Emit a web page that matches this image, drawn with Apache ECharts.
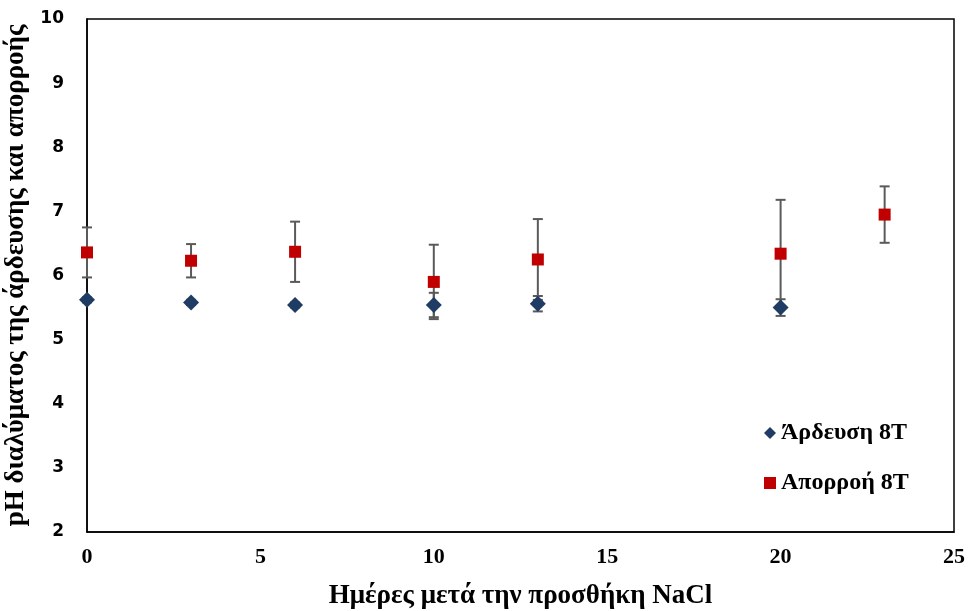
<!DOCTYPE html>
<html><head><meta charset="utf-8">
<script src="https://cdn.jsdelivr.net/npm/echarts@6/dist/echarts.min.js"></script>
<style>html,body{margin:0;padding:0;background:#fff}#c{width:968px;height:611px}</style>
</head><body><div id="c"></div>
<script>
const days = [0, 3, 6, 10, 13, 20, 23];
const irrigationDays = [0, 3, 6, 10, 13, 20];
const irrigationPH = [5.62, 5.58, 5.54, 5.54, 5.56, 5.50];
const irrigationErr = [0.04, 0.04, 0.04, 0.19, 0.12, 0.13];
const runoffPH = [6.36, 6.23, 6.37, 5.90, 6.25, 6.34, 6.95];
const runoffErr = [0.39, 0.26, 0.47, 0.58, 0.63, 0.84, 0.44];
const xTicks = [0, 5, 10, 15, 20, 25];
const yTicks = [2, 3, 4, 5, 6, 7, 8, 9, 10];

const errData = [];
irrigationDays.forEach((d, i) => errData.push([d, irrigationPH[i] - irrigationErr[i], irrigationPH[i] + irrigationErr[i]]));
days.forEach((d, i) => errData.push([d, runoffPH[i] - runoffErr[i], runoffPH[i] + runoffErr[i]]));

const chart = echarts.init(document.getElementById('c'));
const serif = '"Liberation Serif", "Times New Roman", serif';
chart.setOption({
  animation: false,
  grid: { left: 87, right: 14, top: 19, bottom: 79, containLabel: false, outerBoundsMode: 'none', show: true, borderColor: '#000', borderWidth: 1.5, backgroundColor: 'transparent' },
  xAxis: {
    type: 'value', min: xTicks[0], max: xTicks[xTicks.length - 1], interval: 5,
    name: 'Ημέρες μετά την προσθήκη NaCl', nameLocation: 'middle', nameGap: 51,
    nameTextStyle: { fontFamily: serif, fontWeight: 'bold', fontSize: 27, color: '#000' },
    axisLine: { show: true, lineStyle: { color: '#000', width: 1.5 } },
    axisTick: { show: false }, splitLine: { show: false },
    axisLabel: { fontFamily: serif, fontWeight: 'bold', fontSize: 22, color: '#000', margin: 14 }
  },
  yAxis: {
    type: 'value', min: yTicks[0], max: yTicks[yTicks.length - 1], interval: 1,
    name: 'pH διαλύματος της άρδευσης και απορροής', nameLocation: 'middle', nameGap: 53,
    nameTextStyle: { fontFamily: serif, fontWeight: 'bold', fontSize: 27, color: '#000' },
    axisLine: { show: true, lineStyle: { color: '#000', width: 1.5 } },
    axisTick: { show: false }, splitLine: { show: false },
    axisLabel: { fontFamily: '"DejaVu Sans", Verdana, sans-serif', fontWeight: 'bold', fontSize: 17, color: '#000', margin: 23 }
  },
  legend: {
    orient: 'vertical', left: 759, top: 416, itemGap: 26, itemWidth: 12, itemHeight: 12,
    textStyle: { fontFamily: serif, fontWeight: 'bold', fontSize: 24, color: '#000' },
    data: [{ name: 'Άρδευση 8T', icon: 'diamond' }, { name: 'Απορροή 8T', icon: 'rect' }]
  },
  series: [
    {
      type: 'custom', name: 'err', silent: true, z: 1,
      data: errData,
      renderItem: function (params, api) {
        const x = api.value(0);
        const lo = api.coord([x, api.value(1)]);
        const hi = api.coord([x, api.value(2)]);
        const w = 5;
        const st = { stroke: '#5a5a5a', lineWidth: 2 };
        return { type: 'group', children: [
          { type: 'line', shape: { x1: lo[0], y1: lo[1], x2: hi[0], y2: hi[1] }, style: st },
          { type: 'line', shape: { x1: lo[0] - w, y1: lo[1], x2: lo[0] + w, y2: lo[1] }, style: st },
          { type: 'line', shape: { x1: hi[0] - w, y1: hi[1], x2: hi[0] + w, y2: hi[1] }, style: st }
        ]};
      }
    },
    {
      type: 'scatter', name: 'Άρδευση 8T', symbol: 'diamond', symbolSize: 16, z: 3,
      itemStyle: { color: '#1f3c64', opacity: 1 },
      data: irrigationDays.map((d, i) => [d, irrigationPH[i]])
    },
    {
      type: 'scatter', name: 'Απορροή 8T', symbol: 'rect', symbolSize: 12, z: 3,
      itemStyle: { color: '#c00000', opacity: 1 },
      data: days.map((d, i) => [d, runoffPH[i]])
    }
  ]
});
</script></body></html>
